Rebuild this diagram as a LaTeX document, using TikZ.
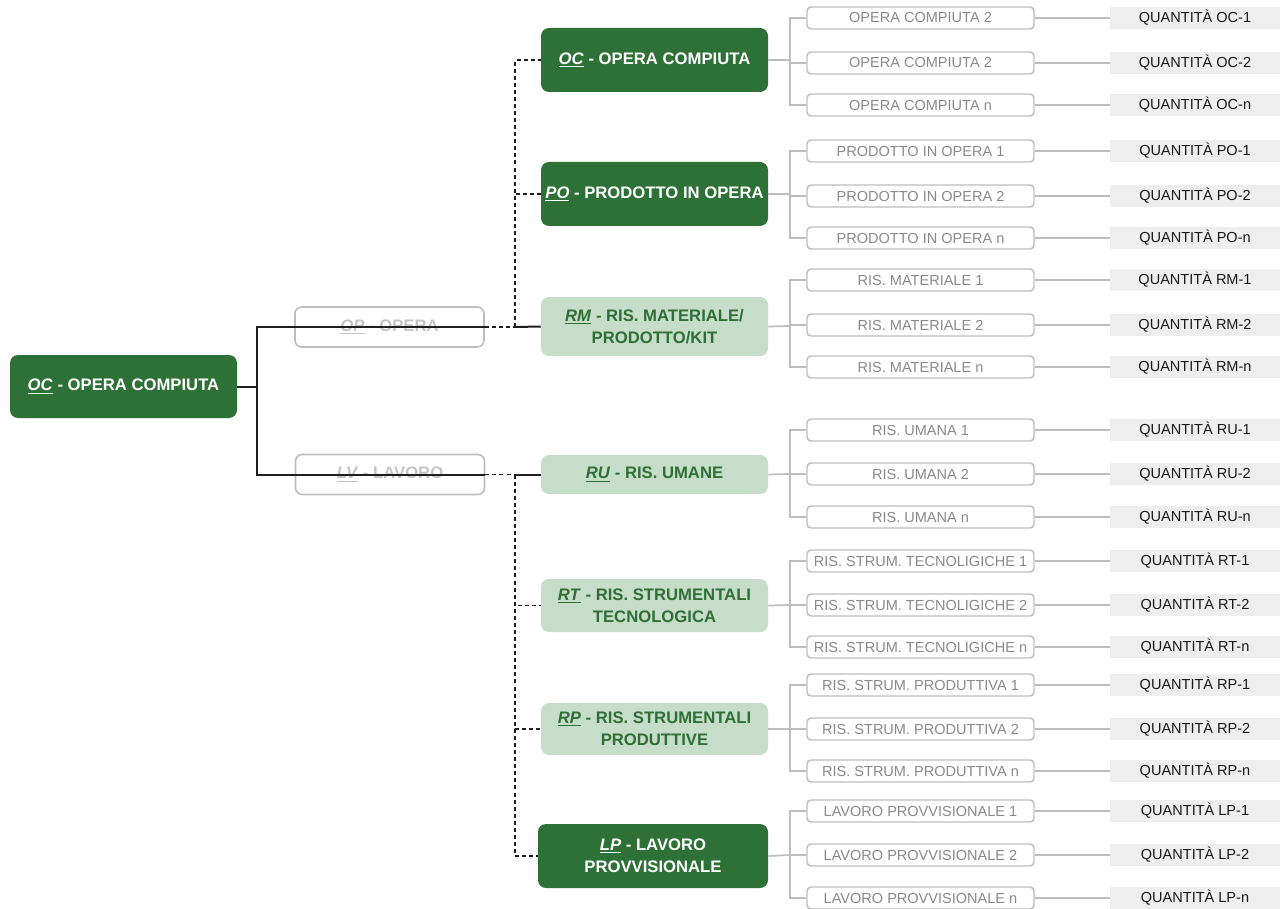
\documentclass[tikz,border=0pt]{standalone}
\usepackage{fontspec}
\setmainfont{Liberation Sans}
\definecolor{dgreen}{HTML}{2E7136}
\definecolor{lgreen}{HTML}{C6DDC9}
\definecolor{tgreen}{HTML}{2F6E37}
\definecolor{bgray}{HTML}{BDBDBD}
\definecolor{ctext}{HTML}{8A8A8A}
\definecolor{qgray}{HTML}{EEEEEE}
\definecolor{ghost}{HTML}{C4C4C4}
\definecolor{bline}{HTML}{1E1E1E}
\newcommand{\abv}[1]{\underline{\textit{#1}}}
\tikzset{
  catbox/.style={rounded corners=6pt, inner sep=0pt, align=center,
    font=\bfseries\fontsize{12.5}{16.5}\selectfont, minimum width=170.25pt},
  dg/.style={catbox, fill=dgreen, text=white},
  lg/.style={catbox, fill=lgreen, text=tgreen},
  ghostbox/.style={rounded corners=5pt, inner sep=0pt, draw=bgray, line width=1.2pt,
    text=ghost, font=\bfseries\fontsize{12.5}{15}\selectfont,
    minimum width=141.75pt, minimum height=30pt},
  childbox/.style={rounded corners=3pt, inner sep=0pt, draw=bgray, line width=1.1pt,
    fill=white, text=ctext, font=\fontsize{10.9}{13}\selectfont,
    minimum width=170.25pt, minimum height=16.5pt},
  qtybox/.style={inner sep=0pt, fill=qgray, text=black!90,
    font=\fontsize{10.9}{13}\selectfont, minimum width=127.5pt, minimum height=16.5pt},
  gline/.style={draw=bgray, line width=1.3pt},
  blk/.style={draw=bline, line width=1.5pt},
  dline/.style={draw=bline, line width=1.4pt, dash pattern=on 3pt off 2.3pt}
}
\begin{document}
\begin{tikzpicture}[x=0.75pt,y=-0.75pt]
\useasboundingbox (0,0) rectangle (1281,909);

% root and intermediate nodes
\node[dg, minimum height=47.25pt] (root) at (123.5,386.5) {\abv{OC} - OPERA COMPIUTA};
\node[ghostbox] (OP) at (389.5,327) {\abv{OP} - OPERA};
\node[ghostbox] (LV) at (390,474.5) {\abv{LV} - LAVORO};

% categories
\node[dg, minimum height=48pt] (OC) at (654.5,60) {\abv{OC} - OPERA COMPIUTA};
\node[dg, minimum height=48pt] (PO) at (654.5,194) {\abv{PO} - PRODOTTO IN OPERA};
\node[lg, minimum height=44.25pt] (RM) at (654.5,326.5) {\abv{RM} - RIS. MATERIALE/\\PRODOTTO/KIT};
\node[lg, minimum height=29.25pt] (RU) at (654.5,474.5) {\abv{RU} - RIS. UMANE};
\node[lg, minimum height=39.75pt] (RT) at (654.5,605.5) {\abv{RT} - RIS. STRUMENTALI\\TECNOLOGICA};
\node[lg, minimum height=39pt] (RP) at (654.5,729) {\abv{RP} - RIS. STRUMENTALI\\PRODUTTIVE};
\node[dg, minimum height=48pt, minimum width=172.5pt] (LP) at (653,856) {\abv{LP} - LAVORO\\PROVVISIONALE};

% children and quantities
\foreach \g/\cy/\ya/\yb/\yc/\sa/\lab in {
  OC/60/18/63/105/2/OPERA COMPIUTA,
  PO/194/151/196/238/1/PRODOTTO IN OPERA,
  RM/326/280/325/367/1/RIS. MATERIALE,
  RU/474/430/474/517/1/RIS. UMANA,
  RT/605/561/605/647/1/RIS. STRUM. TECNOLIGICHE,
  RP/729/685/729/771/1/RIS. STRUM. PRODUTTIVA,
  LP/855/811/855/898/1/LAVORO PROVVISIONALE} {
  \coordinate (j\g) at (790,\cy);
  \draw[gline] (\g.east) -- (j\g);
  \foreach \k/\y/\s in {1/\ya/\sa, 2/\yb/2, n/\yc/n} {
    \node[childbox] (\g\k) at (920.5,\y) {\lab\ \s};
    \node[qtybox] (q\g\k) at (1195,\y) {QUANTITÀ \g-\k};
    \draw[gline] (j\g) |- (\g\k.west);
    \draw[gline] (\g\k.east) -- (q\g\k.west);
  }
}

% root connectors
\coordinate (j) at (257,386.5);
\coordinate (dOP) at (515,327);
\coordinate (dLV) at (515,474.5);
\draw[blk] (root.east) -- (j);
\draw[blk] (j) |- (OP.east);
\draw[blk] (j) |- (LV.east);
\draw[dline] (OP.east) -- (dOP);
\draw[dline] (LV.east) -- (dLV);
\draw[blk] (dOP) -- (RM.west);
\draw[blk] (dLV) -- (RU.west);
\draw[dline] (dOP) |- (OC.west);
\draw[dline] (dOP) |- (PO.west);
\draw[dline] (dLV) |- (RT.west);
\draw[dline] (dLV) |- (RP.west);
\draw[dline] (dLV) |- (LP.west);
\end{tikzpicture}
\end{document}
